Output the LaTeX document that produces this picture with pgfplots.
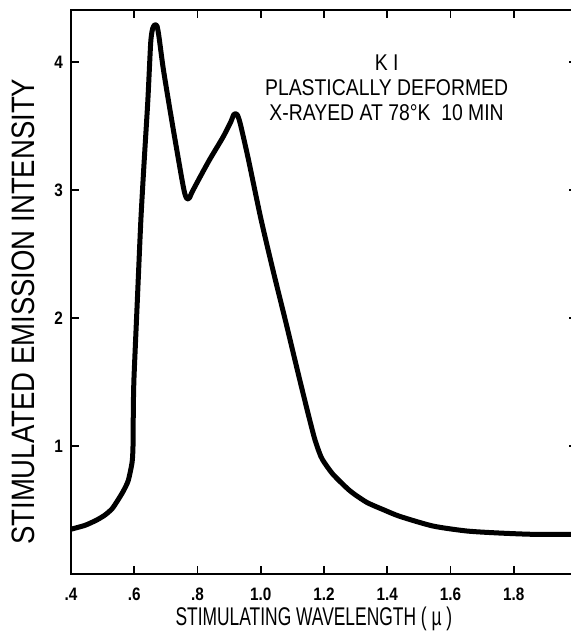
\documentclass[border=0pt]{standalone}
\usepackage{fontspec}
\setmainfont{Liberation Sans}[FakeStretch=0.85]
\newfontfamily\xlabfont{Liberation Sans}[FakeStretch=0.68]
\usepackage{pgfplots}
\pgfplotsset{compat=1.18}
\usetikzlibrary{calc}

\begin{document}
\begin{tikzpicture}
\begin{axis}[
  name=ax,
  scale only axis, width=253pt, height=282pt,
  xmin=0.4, xmax=2.0, ymin=0, ymax=4.406,
  xtick={0.4,0.6,0.8,1.0,1.2,1.4,1.6,1.8,2.0},
  xticklabels={.4,.6,.8,1.0,1.2,1.4,1.6,1.8,},
  ytick={1,2,3,4},
  yticklabels={1,2,3,4},
  tick align=inside, major tick length=4pt,
  tick style={line width=0.9pt, black},
  axis line style={line width=1pt},
  tick label style={font=\fontsize{9}{10}\selectfont\bfseries},
  xticklabel style={yshift=-3.5pt},
  yticklabel style={xshift=-0.5pt},
  xlabel={\xlabfont\fontsize{12.8}{14}\selectfont STIMULATING WAVELENGTH ( \textmu\ )},
  xlabel style={at={(axis description cs:0.48,-0.079)}, anchor=center},
  ylabel={\fontsize{16.2}{17}\selectfont STIMULATED EMISSION INTENSITY},
  ylabel style={at={(axis description cs:-0.095,0.465)}, anchor=center},
]
\addplot[black, line width=2.5pt, smooth, tension=0.4, line join=round, line cap=round] coordinates {
  (0.400,0.35) (0.444,0.38) (0.480,0.42) (0.507,0.46) (0.530,0.51)
  (0.549,0.58) (0.566,0.65) (0.581,0.73) (0.593,0.87) (0.596,0.99)
  (0.597,1.26) (0.599,1.52) (0.610,2.15) (0.621,2.77) (0.632,3.25)
  (0.643,3.70) (0.652,4.15) (0.658,4.26) (0.665,4.29) (0.672,4.28)
  (0.678,4.20) (0.691,3.96) (0.708,3.70) (0.725,3.45) (0.751,3.08)
  (0.760,2.97) (0.767,2.93) (0.775,2.94) (0.782,2.98) (0.810,3.11)
  (0.839,3.24) (0.880,3.41) (0.905,3.53) (0.915,3.59) (0.925,3.59)
  (0.935,3.52) (0.960,3.25) (1.000,2.78) (1.040,2.36) (1.080,1.96)
  (1.120,1.55) (1.150,1.25) (1.170,1.06) (1.185,0.95) (1.196,0.89)
  (1.228,0.78) (1.282,0.65) (1.335,0.56) (1.390,0.50) (1.440,0.45)
  (1.544,0.375) (1.651,0.336) (1.755,0.32) (1.860,0.31) (1.980,0.31)
  (2.000,0.31)
};
\node[align=center, inner sep=0pt, font=\fontsize{11.4}{11}\selectfont]
  at (axis cs:1.398,3.80) {K I\\[1.5pt]PLASTICALLY DEFORMED\\[1.5pt]X-RAYED AT 78°K\ \ 10 MIN};
\end{axis}
\pgfresetboundingbox
\path[use as bounding box] ($(ax.south west)+(-35.5pt,-28.5pt)$) rectangle ($(ax.north east)+(-3pt,5pt)$);
\end{tikzpicture}
\end{document}
